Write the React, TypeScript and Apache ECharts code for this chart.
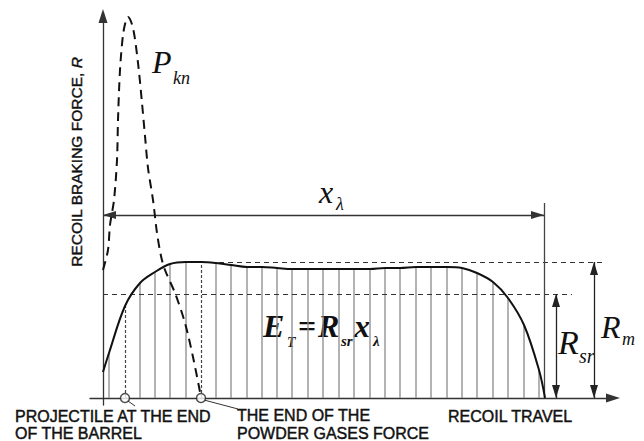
import React, { useEffect, useRef } from "react";
import * as echarts from "echarts";

// Recoil braking force curve sampled at the hatch positions (x: travel, y: force)
const hatchX = [6, 22, 37, 52, 67, 83, 98, 113, 128, 144, 159, 174, 189, 205, 220, 236, 251, 267, 282, 297, 313, 328, 344, 359, 374, 390, 405, 421, 436];
const recoilForce = [45, 92, 115, 126, 134, 136, 136, 135, 133, 131, 131, 130, 129, 129, 129, 129, 129, 129, 130, 130, 131, 131, 131, 130, 125, 116, 100, 73, 28];
const recoilStart = [0, 26];
const recoilEnd = [442, 0];

// Powder gases force P_kn (dashed)
const powderX = [0, 5, 7, 11, 14, 15, 17, 20, 23, 25, 30, 35, 39, 42, 45, 50, 54, 58, 62, 72, 82, 90, 98];
const powderForce = [128, 148, 173, 198, 238, 278, 328, 363, 378, 381, 370, 335, 295, 262, 230, 198, 165, 142, 128, 105, 75, 41, 1];

// Key positions / levels
const projectileX = 22;
const gasEndX = 98;
const travelX = 441;
const rMax = 136;
const rMean = 104;
const xLambdaLevel = 183;
const travelLineTop = 195;
const rMaxLineEnd = 502;
const rMeanLineEnd = 469;
const rMeanArrowX = 453;
const rMaxArrowX = 491;

const SERIF = "'Liberation Serif', 'Times New Roman', serif";
const SANS = "'Liberation Sans', Arial, sans-serif";

export default function App() {
  const ref = useRef<HTMLDivElement>(null);

  useEffect(() => {
    document.body.style.margin = "0";
    const chart = echarts.init(ref.current!, null, { renderer: "svg" });

    const hatchData = hatchX
      .map((x, i) => [x, recoilForce[i]])
      .filter((p) => p[0] !== projectileX && p[0] !== gasEndX);
    const curveData = [recoilStart, ...hatchX.map((x, i) => [x, recoilForce[i]]), recoilEnd];
    const powderData = powderX.map((x, i) => [x, powderForce[i]]);
    const projForce = recoilForce[hatchX.indexOf(projectileX)];

    const arrowEnd = (coord: number[]) => ({
      coord,
      symbol: "triangle",
      symbolSize: [8, 13],
      symbolOffset: [0, "50%"],
    });
    const plainEnd = (coord: number[]) => ({ coord, symbol: "none" });

    const txt = (
      text: string,
      x: number,
      y: number,
      size: number,
      opts: any = {}
    ) => ({
      type: "text",
      x,
      y,
      silent: true,
      style: {
        text,
        fontSize: size,
        fontFamily: opts.family || SERIF,
        fontStyle: opts.style || "italic",
        fontWeight: opts.weight || "normal",
        fill: "#111",
        align: "left",
        verticalAlign: "middle",
      },
    });

    const sansLabel = (text: string, x: number, y: number, lineHeight: number) => ({
      type: "text",
      x,
      y,
      silent: true,
      style: {
        text,
        fontSize: 16,
        lineHeight,
        fontFamily: SANS,
        fill: "#111",
        stroke: "#111",
        lineWidth: 0.45,
        align: "left",
        verticalAlign: "top",
      },
    });

    const option: any = {
      animation: false,
      backgroundColor: "#ffffff",
      grid: { left: 90, right: 31, top: 16, bottom: 36 },
      xAxis: {
        type: "value",
        min: -13,
        max: 510,
        axisLine: {
          show: true,
          onZero: true,
          symbol: ["none", "triangle"],
          symbolSize: [9, 14],
          lineStyle: { color: "#333", width: 1.3 },
        },
        axisTick: { show: false },
        axisLabel: { show: false },
        splitLine: { show: false },
      },
      yAxis: {
        type: "value",
        min: -7,
        max: 382,
        axisLine: {
          show: true,
          onZero: true,
          symbol: ["none", "triangle"],
          symbolSize: [9, 14],
          lineStyle: { color: "#333", width: 1.3 },
        },
        axisTick: { show: false },
        axisLabel: { show: false },
        splitLine: { show: false },
      },
      series: [
        {
          type: "bar",
          name: "hatch",
          data: hatchData,
          barWidth: 1.3,
          itemStyle: { color: "#8a8a8a" },
          silent: true,
        },
        {
          type: "line",
          name: "recoil",
          data: curveData,
          smooth: 0.35,
          showSymbol: false,
          symbol: "none",
          lineStyle: { color: "#111", width: 2 },
          silent: true,
          z: 5,
          markLine: {
            silent: true,
            symbol: "none",
            label: { show: false },
            emphasis: { disabled: true },
            data: [
              [
                { ...plainEnd([projectileX, 0]), lineStyle: { color: "#444", width: 1.2, type: [3, 2] } },
                plainEnd([projectileX, projForce]),
              ],
              [
                { ...plainEnd([gasEndX, 0]), lineStyle: { color: "#444", width: 1.2, type: [3, 2] } },
                plainEnd([gasEndX, rMax]),
              ],
              [
                { ...plainEnd([gasEndX, rMax]), lineStyle: { color: "#333", width: 1.2, type: [5, 4] } },
                plainEnd([rMaxLineEnd, rMax]),
              ],
              [
                { ...plainEnd([0, rMean]), lineStyle: { color: "#333", width: 1.2, type: [5, 4] } },
                plainEnd([rMeanLineEnd, rMean]),
              ],
              [
                { ...plainEnd([travelX, 0]), lineStyle: { color: "#444", width: 1.3, type: "solid" } },
                plainEnd([travelX, travelLineTop]),
              ],
              [
                { ...arrowEnd([0, xLambdaLevel]), lineStyle: { color: "#333", width: 1.3, type: "solid" } },
                arrowEnd([travelX, xLambdaLevel]),
              ],
              [
                { ...arrowEnd([rMeanArrowX, 0]), lineStyle: { color: "#222", width: 1.3, type: "solid" } },
                arrowEnd([rMeanArrowX, rMean]),
              ],
              [
                { ...arrowEnd([rMaxArrowX, 0]), lineStyle: { color: "#222", width: 1.3, type: "solid" } },
                arrowEnd([rMaxArrowX, rMax]),
              ],
            ],
          },
        },
        {
          type: "line",
          name: "powder",
          data: powderData,
          smooth: 0.3,
          showSymbol: false,
          symbol: "none",
          lineStyle: { color: "#111", width: 2, type: [9, 6] },
          silent: true,
          z: 6,
        },
        {
          type: "scatter",
          name: "events",
          data: [
            [projectileX, 0],
            [gasEndX, 0],
          ],
          symbol: "circle",
          symbolSize: 9,
          itemStyle: { color: "#ffffff", borderColor: "#222", borderWidth: 1.5 },
          silent: true,
          clip: false,
          z: 7,
        },
      ],
      graphic: [
        {
          type: "text",
          x: 76,
          y: 162,
          rotation: Math.PI / 2,
          silent: true,
          style: {
            text: "{a|RECOIL BRAKING FORCE, }{b|R}",
            align: "center",
            verticalAlign: "middle",
            rich: {
              a: { fontSize: 15.5, fontFamily: SANS, fill: "#111", stroke: "#111", lineWidth: 0.4 },
              b: { fontSize: 15.5, fontFamily: SANS, fontStyle: "italic", fill: "#111", stroke: "#111", lineWidth: 0.4 },
            },
          },
        },
        txt("P", 152, 62, 32),
        txt("kn", 173, 78, 18),
        txt("x", 319, 192, 32),
        txt("λ", 336, 204, 18),
        txt("E", 263, 326, 32, { weight: "bold" }),
        txt("T", 287, 342, 14, { weight: "bold" }),
        txt("=", 298, 326, 32, { weight: "bold", style: "normal" }),
        txt("R", 318, 326, 32, { weight: "bold" }),
        txt("sr", 341, 341, 15, { weight: "bold" }),
        txt("x", 354, 326, 32, { weight: "bold" }),
        txt("λ", 373, 341, 15, { weight: "bold" }),
        txt("R", 558, 342, 34),
        txt("sr", 579, 356, 20),
        txt("R", 601, 327, 32),
        txt("m", 622, 339, 18),
        {
          type: "line",
          silent: true,
          shape: { x1: 128, y1: 401, x2: 135, y2: 406 },
          style: { stroke: "#333", lineWidth: 1 },
        },
        {
          type: "line",
          silent: true,
          shape: { x1: 204, y1: 400, x2: 238, y2: 409 },
          style: { stroke: "#333", lineWidth: 1 },
        },
        sansLabel("PROJECTILE AT THE END\nOF THE BARREL", 15, 408, 17),
        sansLabel("THE END OF THE\nPOWDER GASES FORCE", 237, 406, 18),
        sansLabel("RECOIL TRAVEL", 448, 408, 17),
      ],
    };

    chart.setOption(option);
    return () => chart.dispose();
  }, []);

  return <div ref={ref} style={{ width: 644, height: 441 }} />;
}
